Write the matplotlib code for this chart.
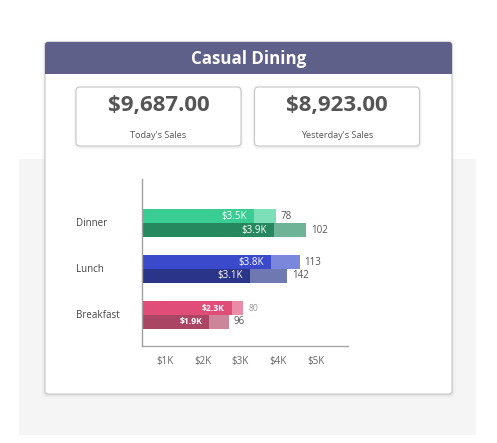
import matplotlib
matplotlib.use("Agg")
import matplotlib.pyplot as plt
from matplotlib.patches import FancyBboxPatch, Rectangle
import matplotlib.transforms as mtransforms

plt.rcParams['font.family'] = ['Open Sans', 'DejaVu Sans']

# ---------------- data ----------------
title = "Casual Dining"
kpi_values = ["$9,687.00", "$8,923.00"]
kpi_labels = ["Today's Sales", "Yesterday's Sales"]

categories = ["Dinner", "Lunch", "Breakfast"]
# sales bars (in $K)
today_sales = [3.36, 3.81, 2.77]
yesterday_sales = [3.89, 3.25, 2.17]
# end of the lighter extension (in $K)
today_total = [3.93, 4.57, 3.08]
yesterday_total = [4.75, 4.24, 2.69]
today_sales_labels = ["$3.5K", "$3.8K", "$2.3K"]
yesterday_sales_labels = ["$3.9K", "$3.1K", "$1.9K"]
today_counts = [78, 113, 80]
yesterday_counts = [102, 142, 96]

xticks = [1, 2, 3, 4, 5]
xtick_labels = ["$1K", "$2K", "$3K", "$4K", "$5K"]

# colours per category: (today dark, today light, yesterday dark, yesterday light)
colors = {
    "Dinner": ("#3acd93", "#7cdfb8", "#26885f", "#6eb398"),
    "Lunch": ("#3a4acb", "#7b87dc", "#2a3488", "#6f78b0"),
    "Breakfast": ("#e04d79", "#ea8ba7", "#aa4664", "#cc8599"),
}

# ---------------- figure ----------------
W, H = 497, 443
fig = plt.figure(figsize=(W / 100, H / 100), dpi=100)
fig.patch.set_facecolor("white")

bg = fig.add_axes([0, 0, 1, 1])
bg.set_xlim(0, W)
bg.set_ylim(H, 0)
bg.axis("off")

# light gray backdrop
bg.add_patch(Rectangle((19, 159), 457, 276, facecolor="#f5f5f5", edgecolor="none", zorder=0))

# card shadow
for i, a in enumerate([0.025, 0.018, 0.012, 0.008]):
    d = i + 1
    bg.add_patch(FancyBboxPatch((45 - d, 42 - d + 1), 407 + 2 * d, 352 + 2 * d,
                                boxstyle="round,pad=0,rounding_size=%d" % (3 + d),
                                facecolor="black", edgecolor="none", alpha=a, zorder=1))
# card
bg.add_patch(FancyBboxPatch((45, 42), 407, 352, boxstyle="round,pad=0,rounding_size=3",
                            facecolor="white", edgecolor="#c6c6c6", linewidth=0.8, zorder=2))
# header
bg.add_patch(FancyBboxPatch((45, 42), 407, 31, boxstyle="round,pad=0,rounding_size=3",
                            facecolor="#5e6089", edgecolor="none", zorder=3))
bg.add_patch(Rectangle((45, 60), 407, 13.5, facecolor="#5e6089", edgecolor="none", zorder=3))
bg.text(248.5, 59, title, color="white", fontsize=12.2, fontweight="bold",
        ha="center", va="center", zorder=4)

# KPI boxes
box_x = [76, 254.5]
for bx, val, lab in zip(box_x, kpi_values, kpi_labels):
    for d, a in [(1, 0.03), (2, 0.018), (3, 0.01)]:
        bg.add_patch(FancyBboxPatch((bx - d, 87 - d + 1), 165 + 2 * d, 59 + 2 * d,
                                    boxstyle="round,pad=0,rounding_size=%d" % (4 + d),
                                    facecolor="black", edgecolor="none", alpha=a, zorder=3))
    bg.add_patch(FancyBboxPatch((bx, 87), 165, 59, boxstyle="round,pad=0,rounding_size=4",
                                facecolor="white", edgecolor="#c8c8c8", linewidth=0.8, zorder=4))
    bg.text(bx + 82.5, 105, val, color="#555555", fontsize=16, fontweight="bold",
            ha="center", va="center", zorder=5)
    bg.text(bx + 82.5, 135, lab, color="#555555", fontsize=6.6,
            ha="center", va="center", zorder=5)

# ---------------- bar chart ----------------
ax_l, ax_r, ax_t, ax_b = 142, 348, 179, 346
ax = fig.add_axes([ax_l / W, 1 - ax_b / H, (ax_r - ax_l) / W, (ax_b - ax_t) / H])
ax.set_facecolor("none")
ax.set_zorder(5)

centers = list(range(len(categories)))
bh = 0.29
off = 0.152

for i, cat in enumerate(categories):
    c_td, c_tl, c_yd, c_yl = colors[cat]
    y_t = centers[i] - off
    y_y = centers[i] + off
    ax.barh(y_t, today_total[i], height=bh, color=c_tl, left=0)
    ax.barh(y_t, today_sales[i], height=bh, color=c_td, left=0)
    ax.barh(y_y, yesterday_total[i], height=bh, color=c_yl, left=0)
    ax.barh(y_y, yesterday_sales[i], height=bh, color=c_yd, left=0)

    small = cat == "Breakfast"
    fw = "bold" if small else "normal"
    fs_in = 6.2 if small else 7
    ax.annotate(today_sales_labels[i], (today_sales[i], y_t), xytext=(-5, 0),
                textcoords="offset points", ha="right", va="center",
                color="white", fontsize=fs_in, fontweight=fw)
    ax.annotate(yesterday_sales_labels[i], (yesterday_sales[i], y_y), xytext=(-5, 0),
                textcoords="offset points", ha="right", va="center",
                color="white", fontsize=fs_in, fontweight=fw)
    ax.annotate(str(today_counts[i]), (today_total[i], y_t), xytext=(3.5, 0),
                textcoords="offset points", ha="left", va="center",
                color="#999999" if small else "#555555", fontsize=6.2 if small else 7)
    ax.annotate(str(yesterday_counts[i]), (yesterday_total[i], y_y), xytext=(3.5, 0),
                textcoords="offset points", ha="left", va="center",
                color="#555555", fontsize=7)

# category labels, left aligned at x=76 px
trans = mtransforms.blended_transform_factory(fig.transFigure, ax.transData)
for i, cat in enumerate(categories):
    ax.text(76 / W, centers[i], cat, transform=trans, ha="left", va="center",
            color="#444444", fontsize=7, clip_on=False)

ax.set_xlim(0.39, 5.85)
ax.set_ylim(2.674, -0.957)
ax.set_yticks([])
ax.set_xticks(xticks)
ax.set_xticklabels(xtick_labels, color="#666666", fontsize=7)
ax.tick_params(axis="x", length=0, pad=7)
for s in ["top", "right"]:
    ax.spines[s].set_visible(False)
ax.spines["left"].set_color("#a0a0a0")
ax.spines["bottom"].set_color("#a8a8a8")
ax.spines["left"].set_linewidth(1.0)
ax.spines["bottom"].set_linewidth(1.0)

fig.savefig("out.png", dpi=100, facecolor=fig.get_facecolor())
